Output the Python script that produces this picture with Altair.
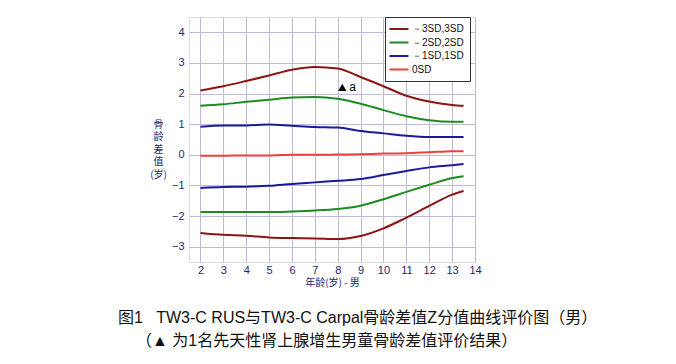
import altair as alt
import pandas as pd

ages = [2, 3, 4, 5, 6, 7, 8, 9, 10, 11, 12, 13, 13.5]
p3 = [2.10, 2.24, 2.41, 2.59, 2.78, 2.87, 2.82, 2.54, 2.24, 1.93, 1.74, 1.63, 1.60]
p2 = [1.60, 1.65, 1.73, 1.80, 1.87, 1.89, 1.83, 1.67, 1.46, 1.26, 1.13, 1.08, 1.08]
p1 = [0.92, 0.96, 0.96, 0.99, 0.95, 0.91, 0.89, 0.78, 0.70, 0.62, 0.58, 0.58, 0.58]
z0 = [-0.03, -0.03, -0.02, -0.02, 0.00, 0.00, 0.01, 0.02, 0.04, 0.05, 0.08, 0.12, 0.12]
m1 = [-1.08, -1.05, -1.04, -1.01, -0.95, -0.90, -0.85, -0.79, -0.66, -0.53, -0.41, -0.34, -0.30]
m2 = [-1.87, -1.87, -1.87, -1.87, -1.85, -1.82, -1.77, -1.66, -1.45, -1.21, -0.98, -0.76, -0.70]
m3 = [-2.55, -2.61, -2.64, -2.70, -2.72, -2.73, -2.75, -2.65, -2.40, -2.05, -1.67, -1.30, -1.18]

labels = ["－3SD,3SD", "－2SD,2SD", "－1SD,1SD", "\u00a0\u00a0\u00a00SD"]
colors = ["#8B1512", "#1F8A1F", "#1A1A9A", "#E8433A"]

x_ticks = list(range(2, 15))
y_ticks = list(range(-3, 5))

curves = [("p3", labels[0], p3), ("m3", labels[0], m3),
          ("p2", labels[1], p2), ("m2", labels[1], m2),
          ("p1", labels[2], p1), ("m1", labels[2], m1),
          ("z0", labels[3], z0)]

rows = []
for cid, lab, vals in curves:
    for a, v in zip(ages, vals):
        rows.append({"curve": cid, "group": lab, "age": a, "z": v})
df = pd.DataFrame(rows)

case_x = [8.2]
case_y = [2.2]
case_label = ["a"]
case = pd.DataFrame({"age": case_x, "z": case_y, "lab": case_label})

ytitle_lines = ["骨", "龄", "差", "值", "(岁)"]

font = "Liberation Sans"
cjk = "Noto Sans CJK SC"
mixed = "'Liberation Sans', 'Noto Sans CJK SC'"
navy = "#1E2770"
grid = "#BDBDDB"

xs = alt.Scale(domain=[1.5, 14], nice=False, zero=False)
ys = alt.Scale(domain=[-3.5, 4.5], nice=False, zero=False)

x_axis = alt.Axis(values=x_ticks, tickCount=13, title="年龄(岁) - 男",
                  titleFont=cjk, titleFontSize=10, titleFontWeight="normal",
                  titleColor=navy, titlePadding=2,
                  labelFont=font, labelFontSize=11, labelColor=navy,
                  labelOverlap=False, labelFlush=False, labelPadding=2,
                  ticks=False, grid=True, gridColor=grid, gridOpacity=1,
                  domain=False)
y_axis = alt.Axis(values=y_ticks, tickCount=8, title=ytitle_lines,
                  titleAngle=0, titleFont=cjk, titleFontSize=10,
                  titleFontWeight="normal", titleColor=navy,
                  titleX=-31, titleY=112, titleAlign="center",
                  titleLineHeight=12.5,
                  labelFont=font, labelFontSize=11, labelColor=navy,
                  labelOverlap=False, labelFlush=False, labelPadding=5,
                  ticks=False, grid=True, gridColor=grid, gridOpacity=1,
                  domain=False)

X = alt.X("age:Q", scale=xs, axis=x_axis)
Y = alt.Y("z:Q", scale=ys, axis=y_axis)

lines = alt.Chart(df).mark_line(strokeWidth=2, interpolate="monotone").encode(
    x=X, y=Y,
    color=alt.Color("group:N", scale=alt.Scale(domain=labels, range=colors),
                    legend=alt.Legend(title=None, orient="none", legendX=196, legendY=0,
                                      symbolType="M-1.9,0H1.9", symbolStrokeWidth=2,
                                      symbolSize=100, labelFont=font, labelFontSize=10,
                                      labelColor="#111", rowPadding=2.5,
                                      strokeColor="#333", fillColor="white",
                                      padding=6, labelOffset=7, symbolOffset=2)),
    detail="curve:N",
)

tri = alt.Chart(case).mark_point(shape="triangle-up", filled=True, color="black",
                                  size=70, opacity=1).encode(x=X, y=Y)
tri_lab = alt.Chart(case).mark_text(align="left", dx=7, fontSize=12, font=font,
                                     color="black").encode(x=X, y=Y, text="lab:N")

cap1 = alt.Chart(pd.DataFrame({"t": ["图1\u00a0\u00a0\u00a0TW3-C RUS与TW3-C Carpal骨龄差值Z分值曲线评价图（男）"]})).mark_text(
    align="left", baseline="middle", fontSize=16, font=mixed, color="#111"
).encode(x=alt.value(-71), y=alt.value(301), text="t:N")
cap2 = alt.Chart(pd.DataFrame({"t": ["（▲ 为1名先天性肾上腺增生男童骨龄差值评价结果）"]})).mark_text(
    align="left", baseline="middle", fontSize=16, font=mixed, color="#111"
).encode(x=alt.value(-53), y=alt.value(324), text="t:N")

chart = alt.layer(lines, tri, tri_lab, cap1, cap2).properties(
    width=286, height=245,
    autosize=alt.AutoSizeParams(type="none"),
    padding={"left": 181, "top": 9, "right": 193, "bottom": 94},
).configure_view(stroke="#555", strokeWidth=1).configure(background="white")

chart.save("out.html", embed_options={"renderer": "svg", "actions": False})
